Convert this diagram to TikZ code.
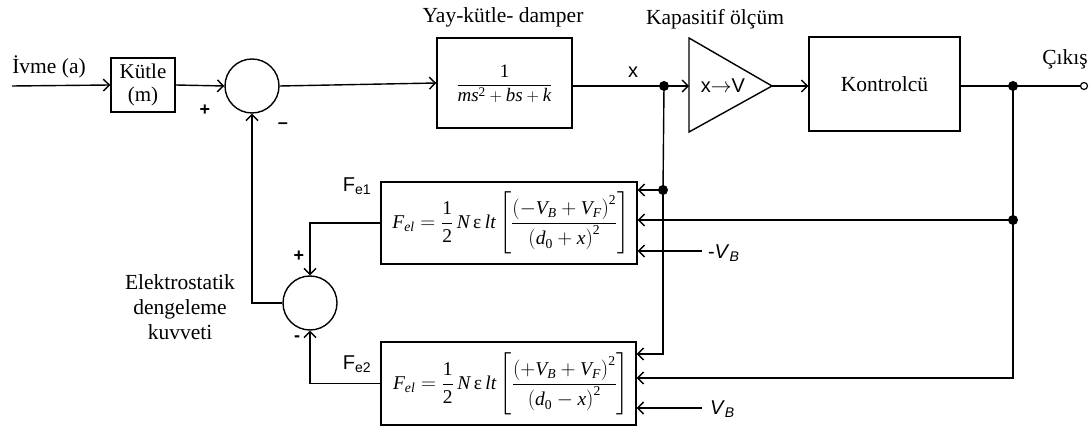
\documentclass[tikz,border=0pt]{standalone}
\usepackage{fontspec}
\usepackage{amsmath}
\setmainfont{Liberation Serif}
\newfontfamily\sansf{Liberation Sans}
\usetikzlibrary{arrows.meta,shapes.geometric}
\newcommand\ti[1]{\textit{#1}}
\newcommand\sub[1]{_{\text{\itshape #1}}}
\begin{document}
\begin{tikzpicture}[x=1pt,y=-1pt, line width=1.4pt,
  blk/.style={draw, rectangle, inner sep=0pt},
  sumc/.style={draw, circle, minimum size=54pt, inner sep=0pt},
  dotn/.style={circle, fill, minimum size=10pt, inner sep=0pt},
  arr/.style={-{Straight Barb[length=6pt,width=12pt]}},
  lbl/.style={font=\fontsize{21.5}{25}\selectfont, align=center},
  sl/.style={font=\sansf\fontsize{20}{22}\selectfont},
  pm/.style={font=\sansf\bfseries\fontsize{18}{20}\selectfont},
  eq/.style={font=\fontsize{19.5}{23}\selectfont}]
\useasboundingbox (0,0) rectangle (1089,427);

% top row
\coordinate (in) at (12,86);
\node[lbl] (ivme) at (49,67) {İvme (a)};
\node[blk, lbl, minimum width=64pt, minimum height=54pt, font=\fontsize{21}{23}\selectfont] (kutle) at (143,85) {Kütle\\(m)};
\node[sumc] (s1) at (252,86) {};
\node[blk, minimum width=135pt, minimum height=90pt] (yay) at (504.5,83) {};
\node[eq, font=\fontsize{19}{22}\selectfont] (yayf) at (504.5,84) {$\dfrac{\text{1}}{\ti{ms}^{\text{2}}+\ti{bs}+\ti{k}}$};
\node[lbl] (yayt) at (503,17) {Yay-kütle- damper};
\node[sl] (xl) at (633,72) {x};
\node[dotn] (d1) at (664,86) {};
\coordinate (triL) at (689,86);
\coordinate (triR) at (772,86);
\draw (689,38) -- (772,86) -- (689,132) -- cycle;
\node[sl] (xv) at (723,86) {x$\to$V};
\node[lbl] (kapt) at (715,19) {Kapasitif ölçüm};
\node[blk, lbl, minimum width=151pt, minimum height=94pt] (kont) at (884.5,84) {Kontrolcü};
\node[dotn] (d2) at (1013,86) {};
\node[draw, circle, minimum size=7pt, inner sep=0pt, line width=1.2pt] (out) at (1084,86) {};
\node[lbl] (cikis) at (1065,59) {Çıkış};
\node[pm] (p1) at (205,110) {+};
\node[pm] (m1) at (283,126) {–};

% force blocks
\node[blk, minimum width=256pt, minimum height=82pt] (b1) at (509,223) {};
\node[eq] (f1) at (511,223) {$\ti{F}\sub{el}=\dfrac{\text{1}}{\text{2}}\,\ti{N}\,\text{ε}\,\ti{lt}\left[\dfrac{\left(-\ti{V}\sub{B}+\ti{V}\sub{F}\right)^{\text{2}}}{\left(\ti{d}_{\text{0}}+\ti{x}\right)^{\text{2}}}\right]$};
\node[blk, minimum width=255pt, minimum height=83pt] (b2) at (508.5,383.5) {};
\node[eq] (f2) at (511,384) {$\ti{F}\sub{el}=\dfrac{\text{1}}{\text{2}}\,\ti{N}\,\text{ε}\,\ti{lt}\left[\dfrac{\left(+\ti{V}\sub{B}+\ti{V}\sub{F}\right)^{\text{2}}}{\left(\ti{d}_{\text{0}}-\ti{x}\right)^{\text{2}}}\right]$};
\node[dotn] (d3) at (663,190) {};
\node[dotn] (d4) at (1013,220) {};
\coordinate (vb1) at (702,251);
\coordinate (vb2) at (702,408);
\node[sl, anchor=west] (vb1l) at (704,253) {-\ti{V}$\sub{B}$};
\node[sl, anchor=west] (vb2l) at (706,409) {\ti{V}$\sub{B}$};
\node[sumc] (s2) at (310,303) {};
\node[sl] (fe1) at (357,186) {F$_{\text{e1}}$};
\node[sl] (fe2) at (357,364) {F$_{\text{e2}}$};
\node[pm] (p2) at (299,256) {+};
\node[pm] (m2) at (297,339) {-};
\node[lbl] (elek) at (180,307) {Elektrostatik\\dengeleme\\kuvveti};

% connectors
\draw[arr] (in) -- (kutle.west);
\draw[arr] (kutle.east) -- (s1.west);
\draw[arr] (s1.east) -- (yay.west);
\draw (yay.east |- d1) -- (d1.center);
\draw[arr] (d1.center) -- (triL);
\draw[arr] (triR) -- (kont.west |- triR);
\draw (kont.east |- d2) -- (d2.center) -- (out.west);
\draw (d1.center) -- (d3.center);
\draw[arr] (d3.center) |- ([yshift=29.5pt]b2.east);
\draw[arr] (d3.center) -- (b1.east |- d3);
\draw (d2.center) -- (d4.center);
\draw[arr] (d4.center) |- ([yshift=5.5pt]b2.east);
\draw[arr] (d4.center) -- (b1.east |- d4);
\draw[arr] (vb1) -- (b1.east |- vb1);
\draw[arr] (vb2) -- (b2.east |- vb2);
\draw[arr] (b1.west) -| (s2.north);
\draw[arr] (b2.west) -| (s2.south);
\draw[arr] (s2.west) -| (s1.south);
\end{tikzpicture}
\end{document}
